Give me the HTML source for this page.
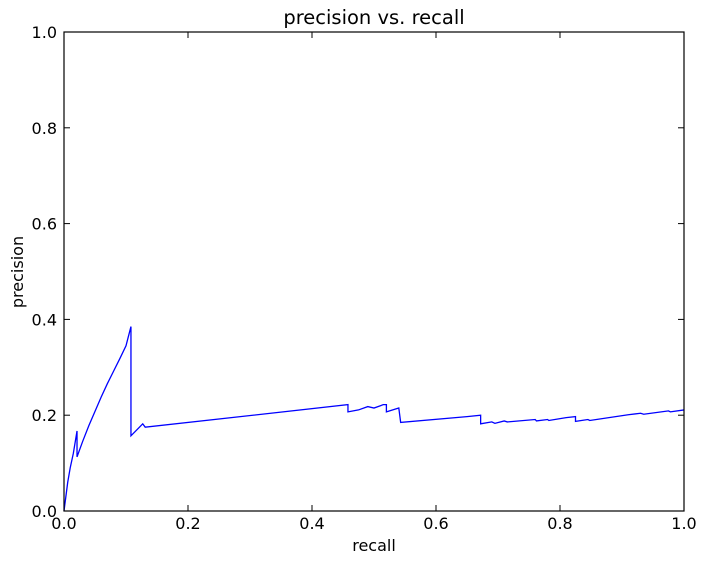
<!DOCTYPE html>
<html><head><meta charset="utf-8"><style>
body{margin:0;background:#fff;}
svg{display:block;font-family:"DejaVu Sans","Liberation Sans",sans-serif;}
</style></head><body>
<svg id="chart" width="707" height="564">
<rect width="707" height="564" fill="#fff"/>
<text x="374" y="24" text-anchor="middle" font-size="19.5">precision vs. recall</text>
<text x="374" y="551" text-anchor="middle" font-size="16">recall</text>
<text transform="translate(23,272) rotate(-90)" text-anchor="middle" font-size="16">precision</text>
<g id="ticks"></g>
<polyline id="line" fill="none" stroke="#0000ff" stroke-width="1.3"/>
<rect x="64" y="32" width="620" height="479" fill="none" stroke="#000" stroke-width="1.2"/>
</svg>
<script>
const recall=[0,0.003,0.006,0.01,0.015,0.021,0.021,0.03,0.04,0.05,0.06,0.07,0.08,0.09,0.1,0.108,0.108,0.127,0.131,0.458,0.458,0.475,0.49,0.5,0.515,0.52,0.52,0.54,0.543,0.65,0.672,0.672,0.69,0.695,0.71,0.715,0.76,0.762,0.78,0.782,0.81,0.825,0.825,0.845,0.848,0.91,0.93,0.935,0.975,0.978,1.0];
const precision=[0,0.03,0.06,0.09,0.12,0.167,0.113,0.145,0.178,0.208,0.238,0.266,0.292,0.318,0.345,0.385,0.157,0.182,0.175,0.222,0.207,0.211,0.218,0.215,0.222,0.222,0.207,0.215,0.185,0.197,0.200,0.182,0.186,0.183,0.188,0.186,0.191,0.188,0.191,0.189,0.195,0.197,0.187,0.191,0.189,0.201,0.204,0.202,0.209,0.207,0.211];
const xTicks=[0,0.2,0.4,0.6,0.8,1.0];
const yTicks=[0,0.2,0.4,0.6,0.8,1.0];
const X=v=>64+v*620, Y=v=>511-v*479;
const ns="http://www.w3.org/2000/svg";
document.getElementById('line').setAttribute('points',recall.map((r,i)=>X(r)+","+Y(precision[i])).join(" "));
const g=document.getElementById('ticks');
function mk(tag,attrs){const e=document.createElementNS(ns,tag);for(const k in attrs)e.setAttribute(k,attrs[k]);g.appendChild(e);return e;}
xTicks.forEach(t=>{
 const x=X(t);
 const a=mk('line',{x1:x,x2:x,y1:511,y2:505,stroke:'#000'});
 
 
 const b=mk('line',{x1:x,x2:x,y1:32,y2:38,stroke:'#000'});
 
 
 const l=mk('text',{x:x,y:529,'text-anchor':'middle','font-size':16});
 l.textContent=t.toFixed(1);
 
 
});
yTicks.forEach(t=>{
 const y=Y(t);
 const a=mk('line',{x1:64,x2:70,y1:y,y2:y,stroke:'#000'});
 
 
 const b=mk('line',{x1:678,x2:684,y1:y,y2:y,stroke:'#000'});
 
 
 const l=mk('text',{x:57,y:y+6,'text-anchor':'end','font-size':16});
 l.textContent=t.toFixed(1);
 
 
});
</script>
</body></html>
